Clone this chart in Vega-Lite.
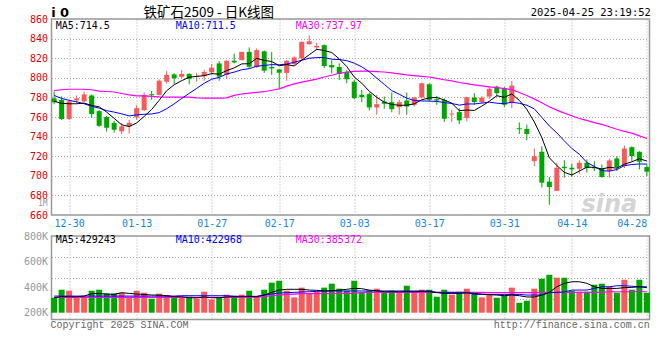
{
"$schema":"https://vega.github.io/schema/vega-lite/v6.json",
"background":"white",
"padding":{"left":22.5,"top":4,"right":4,"bottom":2},
"datasets":{"k":[
{"d":"2024-12-26","o":779,"h":786,"l":773,"c":775,"v":317000,"m5":776,"m10":782,"m30":787,"vm5":317000,"vm10":330000,"vm30":320000},
{"d":"2024-12-27","o":777.5,"h":781,"l":757,"c":758,"v":380000,"m5":774,"m10":779,"m30":787.8,"vm5":325000,"vm10":330000,"vm30":320000},
{"d":"2024-12-30","o":758,"h":778,"l":757,"c":776,"v":372000,"m5":773.5,"m10":777,"m30":788.3,"vm5":325000,"vm10":330000,"vm30":320000},
{"d":"2024-12-31","o":777,"h":782,"l":774,"c":779,"v":325000,"m5":773.5,"m10":775.5,"m30":788.3,"vm5":325000,"vm10":330000,"vm30":320000},
{"d":"2025-01-02","o":776,"h":786,"l":775,"c":783,"v":325000,"m5":774.2,"m10":773.5,"m30":788.3,"vm5":330000,"vm10":330000,"vm30":320000},
{"d":"2025-01-03","o":782,"h":783,"l":759,"c":763,"v":372000,"m5":771.8,"m10":771,"m30":787.8,"vm5":349000,"vm10":330000,"vm30":320000},
{"d":"2025-01-06","o":766,"h":767,"l":750,"c":751,"v":380000,"m5":770.4,"m10":769,"m30":786.5,"vm5":349000,"vm10":330000,"vm30":320000},
{"d":"2025-01-07","o":760,"h":761,"l":745,"c":749,"v":351000,"m5":765,"m10":766.5,"m30":786,"vm5":346000,"vm10":330000,"vm30":320000},
{"d":"2025-01-08","o":754,"h":756,"l":744,"c":747,"v":351000,"m5":758.6,"m10":765,"m30":785.5,"vm5":343000,"vm10":330000,"vm30":320000},
{"d":"2025-01-09","o":745.4,"h":754,"l":742.7,"c":750.5,"v":356000,"m5":752.1,"m10":763.2,"m30":784,"vm5":357000,"vm10":330000,"vm30":320000},
{"d":"2025-01-10","o":750.4,"h":757,"l":743,"c":754,"v":325000,"m5":750.3,"m10":761.1,"m30":782.5,"vm5":351000,"vm10":330000,"vm30":320000},
{"d":"2025-01-13","o":759.6,"h":772,"l":757,"c":769,"v":372000,"m5":753.9,"m10":762.2,"m30":781.6,"vm5":346000,"vm10":330000,"vm30":320000},
{"d":"2025-01-14","o":767,"h":785,"l":766,"c":782.6,"v":356000,"m5":760.6,"m10":762.8,"m30":781.6,"vm5":343000,"vm10":330000,"vm30":320000},
{"d":"2025-01-15","o":783.3,"h":786.6,"l":777.5,"c":782.2,"v":310000,"m5":767.7,"m10":763.1,"m30":781,"vm5":338000,"vm10":330000,"vm30":320000},
{"d":"2025-01-16","o":782.6,"h":798.5,"l":782,"c":797,"v":349000,"m5":777,"m10":764.5,"m30":780.5,"vm5":338000,"vm10":330000,"vm30":320000},
{"d":"2025-01-17","o":796,"h":807,"l":794,"c":803,"v":338000,"m5":786.8,"m10":768.5,"m30":780.2,"vm5":333000,"vm10":330000,"vm30":320000},
{"d":"2025-01-20","o":803.5,"h":804.5,"l":793.7,"c":799.5,"v":325000,"m5":792.9,"m10":773.4,"m30":780.2,"vm5":325000,"vm10":330000,"vm30":320000},
{"d":"2025-01-21","o":801,"h":808,"l":799.5,"c":804,"v":320000,"m5":797.1,"m10":778.9,"m30":780.2,"vm5":325000,"vm10":333000,"vm30":320000},
{"d":"2025-01-22","o":804,"h":804.5,"l":793.4,"c":799,"v":325000,"m5":800.5,"m10":784.1,"m30":780.2,"vm5":317000,"vm10":333000,"vm30":320000},
{"d":"2025-01-23","o":801,"h":805,"l":796,"c":802,"v":312000,"m5":801.5,"m10":789.2,"m30":779.5,"vm5":317000,"vm10":333000,"vm30":320000},
{"d":"2025-01-24","o":802,"h":808,"l":797,"c":806,"v":364000,"m5":802.1,"m10":794.4,"m30":779.2,"vm5":323000,"vm10":333000,"vm30":320000},
{"d":"2025-01-27","o":805.6,"h":814,"l":803,"c":810.3,"v":304000,"m5":804.3,"m10":798.6,"m30":779.2,"vm5":317000,"vm10":333000,"vm30":320000},
{"d":"2025-02-05","o":814.7,"h":817,"l":797,"c":801.2,"v":317000,"m5":803.7,"m10":800.4,"m30":779.2,"vm5":317000,"vm10":333000,"vm30":320000},
{"d":"2025-02-06","o":803,"h":818,"l":799,"c":817.4,"v":341000,"m5":807.4,"m10":803.9,"m30":779.6,"vm5":323000,"vm10":333000,"vm30":320000},
{"d":"2025-02-07","o":817.4,"h":824.8,"l":814.7,"c":815.7,"v":333000,"m5":810.1,"m10":805.8,"m30":782,"vm5":325000,"vm10":328000,"vm30":320000},
{"d":"2025-02-10","o":818,"h":826.5,"l":818,"c":826.5,"v":341000,"m5":814.2,"m10":808.2,"m30":783.5,"vm5":325000,"vm10":328000,"vm30":320000},
{"d":"2025-02-11","o":826.5,"h":831,"l":809.6,"c":811.3,"v":372000,"m5":814.4,"m10":809.3,"m30":784.3,"vm5":328000,"vm10":328000,"vm30":320000},
{"d":"2025-02-12","o":811,"h":830,"l":810,"c":828.2,"v":325000,"m5":819.8,"m10":811.8,"m30":785.2,"vm5":325000,"vm10":328000,"vm30":322000},
{"d":"2025-02-13","o":827,"h":828,"l":805,"c":807.3,"v":380000,"m5":817.8,"m10":812.6,"m30":785.8,"vm5":338000,"vm10":338000,"vm30":326000},
{"d":"2025-02-14","o":811,"h":826.5,"l":803,"c":809.6,"v":435000,"m5":816.6,"m10":813.4,"m30":787.3,"vm5":359000,"vm10":346000,"vm30":333000},
{"d":"2025-02-17","o":808.6,"h":809,"l":788.7,"c":805.2,"v":450000,"m5":812.3,"m10":813.3,"m30":788.7,"vm5":377000,"vm10":354000,"vm30":338000},
{"d":"2025-02-18","o":805,"h":818,"l":797,"c":817.4,"v":372000,"m5":813.5,"m10":814,"m30":791.5,"vm5":383000,"vm10":357000,"vm30":343000},
{"d":"2025-02-19","o":814,"h":822,"l":813,"c":820.8,"v":320000,"m5":812.1,"m10":815.9,"m30":793.8,"vm5":383000,"vm10":359000,"vm30":346000},
{"d":"2025-02-20","o":819.8,"h":837,"l":818,"c":836.7,"v":396000,"m5":817.9,"m10":817.9,"m30":795.6,"vm5":383000,"vm10":362000,"vm30":349000},
{"d":"2025-02-21","o":834.3,"h":843.4,"l":834,"c":837.3,"v":349000,"m5":823.5,"m10":820,"m30":797.2,"vm5":377000,"vm10":364000,"vm30":349000},
{"d":"2025-02-24","o":831,"h":836,"l":828.2,"c":832.6,"v":364000,"m5":829,"m10":820.6,"m30":798.6,"vm5":375000,"vm10":367000,"vm30":349000},
{"d":"2025-02-25","o":833.3,"h":834,"l":810,"c":812,"v":396000,"m5":827.9,"m10":820.7,"m30":800.8,"vm5":370000,"vm10":369000,"vm30":349000},
{"d":"2025-02-26","o":813,"h":818,"l":804.5,"c":810.6,"v":427000,"m5":825.8,"m10":819,"m30":802.6,"vm5":372000,"vm10":370000,"vm30":349000},
{"d":"2025-02-27","o":811,"h":814.7,"l":797.8,"c":803.9,"v":388000,"m5":819.3,"m10":818.6,"m30":804.6,"vm5":377000,"vm10":370000,"vm30":351000},
{"d":"2025-02-28","o":806,"h":808,"l":794.4,"c":798.5,"v":372000,"m5":811.5,"m10":817.5,"m30":805.8,"vm5":383000,"vm10":370000,"vm30":351000},
{"d":"2025-03-03","o":796,"h":798,"l":778,"c":779.2,"v":450000,"m5":800.8,"m10":814.9,"m30":806.5,"vm5":390000,"vm10":370000,"vm30":351000},
{"d":"2025-03-04","o":782.6,"h":787.6,"l":775.1,"c":780.2,"v":356000,"m5":794.5,"m10":811.2,"m30":806.9,"vm5":388000,"vm10":370000,"vm30":359000},
{"d":"2025-03-05","o":783.3,"h":785,"l":766.7,"c":769.7,"v":372000,"m5":786.3,"m10":806.1,"m30":806.9,"vm5":377000,"vm10":370000,"vm30":359000},
{"d":"2025-03-06","o":769.7,"h":782.6,"l":762.3,"c":773.1,"v":388000,"m5":780.1,"m10":799.7,"m30":806.4,"vm5":372000,"vm10":370000,"vm30":359000},
{"d":"2025-03-07","o":775.8,"h":780.9,"l":768.4,"c":773.5,"v":356000,"m5":775.1,"m10":793.3,"m30":805.9,"vm5":364000,"vm10":370000,"vm30":359000},
{"d":"2025-03-10","o":775.1,"h":785,"l":764.7,"c":768,"v":372000,"m5":772.9,"m10":786.9,"m30":805.1,"vm5":364000,"vm10":370000,"vm30":359000},
{"d":"2025-03-11","o":770,"h":777.5,"l":762.3,"c":775.1,"v":364000,"m5":771.9,"m10":783.2,"m30":804,"vm5":364000,"vm10":370000,"vm30":359000},
{"d":"2025-03-12","o":776.8,"h":785,"l":762.3,"c":770.7,"v":411000,"m5":772.1,"m10":779.2,"m30":803,"vm5":364000,"vm10":370000,"vm30":359000},
{"d":"2025-03-13","o":772.4,"h":780.5,"l":770.7,"c":779.9,"v":364000,"m5":773.4,"m10":776.8,"m30":802.2,"vm5":364000,"vm10":370000,"vm30":359000},
{"d":"2025-03-14","o":779.9,"h":795,"l":779,"c":794.4,"v":380000,"m5":777.6,"m10":776.4,"m30":801.5,"vm5":367000,"vm10":370000,"vm30":359000},
{"d":"2025-03-17","o":793.4,"h":794.4,"l":776,"c":777.5,"v":380000,"m5":779.5,"m10":776.2,"m30":800.8,"vm5":364000,"vm10":370000,"vm30":359000},
{"d":"2025-03-18","o":778.2,"h":781.6,"l":772.4,"c":776.8,"v":325000,"m5":779.9,"m10":775.9,"m30":799.5,"vm5":357000,"vm10":359000,"vm30":359000},
{"d":"2025-03-19","o":777.5,"h":779,"l":755,"c":758.2,"v":380000,"m5":777.4,"m10":774.7,"m30":798,"vm5":351000,"vm10":359000,"vm30":359000},
{"d":"2025-03-20","o":762.6,"h":767.4,"l":754.9,"c":763.5,"v":341000,"m5":774.1,"m10":773.8,"m30":796.8,"vm5":351000,"vm10":359000,"vm30":359000},
{"d":"2025-03-21","o":765,"h":769,"l":752.9,"c":756.6,"v":364000,"m5":766.5,"m10":772.1,"m30":795.2,"vm5":351000,"vm10":359000,"vm30":359000},
{"d":"2025-03-24","o":759,"h":780.9,"l":755.6,"c":780.2,"v":388000,"m5":767.1,"m10":773.3,"m30":794,"vm5":354000,"vm10":359000,"vm30":359000},
{"d":"2025-03-25","o":779.9,"h":784.3,"l":772.5,"c":775.2,"v":349000,"m5":766.7,"m10":773.3,"m30":792.8,"vm5":351000,"vm10":343000,"vm30":359000},
{"d":"2025-03-26","o":775.2,"h":781,"l":774,"c":779.9,"v":320000,"m5":771.1,"m10":774.2,"m30":791.8,"vm5":346000,"vm10":343000,"vm30":359000},
{"d":"2025-03-27","o":780.9,"h":791,"l":778.5,"c":788.7,"v":341000,"m5":776.1,"m10":775.1,"m30":790.8,"vm5":341000,"vm10":343000,"vm30":357000},
{"d":"2025-03-28","o":791,"h":792,"l":780.9,"c":784.3,"v":317000,"m5":781.7,"m10":774.1,"m30":790,"vm5":338000,"vm10":343000,"vm30":357000},
{"d":"2025-03-31","o":789.4,"h":791,"l":770,"c":772.5,"v":333000,"m5":780.1,"m10":773.6,"m30":789,"vm5":333000,"vm10":343000,"vm30":357000},
{"d":"2025-04-01","o":774.1,"h":796.8,"l":769.1,"c":792,"v":396000,"m5":783.5,"m10":775.1,"m30":787.9,"vm5":338000,"vm10":343000,"vm30":357000},
{"d":"2025-04-02","o":748.5,"h":754.5,"l":742.7,"c":747.5,"v":278000,"m5":777,"m10":774,"m30":785,"vm5":333000,"vm10":343000,"vm30":357000},
{"d":"2025-04-03","o":747.8,"h":752.2,"l":736.3,"c":742.7,"v":294000,"m5":767.8,"m10":772,"m30":782,"vm5":323000,"vm10":338000,"vm30":357000},
{"d":"2025-04-07","o":715,"h":727.8,"l":709.9,"c":720,"v":388000,"m5":754.9,"m10":768.3,"m30":778.5,"vm5":323000,"vm10":338000,"vm30":357000},
{"d":"2025-04-08","o":724.5,"h":730.2,"l":688,"c":693,"v":466000,"m5":739,"m10":759.6,"m30":774.5,"vm5":338000,"vm10":338000,"vm30":359000},
{"d":"2025-04-09","o":694,"h":698.8,"l":670.4,"c":688.6,"v":497000,"m5":718.4,"m10":750.9,"m30":770.5,"vm5":359000,"vm10":357000,"vm30":359000},
{"d":"2025-04-10","o":684.6,"h":713.3,"l":684.6,"c":708.2,"v":474000,"m5":710.5,"m10":743.8,"m30":767,"vm5":403000,"vm10":359000,"vm30":359000},
{"d":"2025-04-11","o":709.2,"h":716,"l":698.1,"c":707.6,"v":474000,"m5":703.5,"m10":735.6,"m30":764,"vm5":430000,"vm10":362000,"vm30":359000},
{"d":"2025-04-14","o":708.2,"h":712.3,"l":698.8,"c":706.6,"v":372000,"m5":700.8,"m10":727.9,"m30":761.3,"vm5":442000,"vm10":377000,"vm30":359000},
{"d":"2025-04-15","o":707.2,"h":715.7,"l":702.2,"c":713.3,"v":364000,"m5":704.9,"m10":722,"m30":758.5,"vm5":442000,"vm10":377000,"vm30":359000},
{"d":"2025-04-16","o":713.3,"h":716.7,"l":703.2,"c":708.2,"v":364000,"m5":708.8,"m10":713.6,"m30":756.5,"vm5":430000,"vm10":377000,"vm30":359000},
{"d":"2025-04-17","o":708.9,"h":715,"l":704.9,"c":707.6,"v":419000,"m5":708.7,"m10":709.6,"m30":754.2,"vm5":403000,"vm10":390000,"vm30":359000},
{"d":"2025-04-18","o":707.6,"h":711.6,"l":698.1,"c":698.8,"v":427000,"m5":706.9,"m10":705.2,"m30":752.5,"vm5":390000,"vm10":403000,"vm30":359000},
{"d":"2025-04-21","o":704.9,"h":717.4,"l":698.1,"c":715.7,"v":403000,"m5":708.7,"m10":704.8,"m30":750,"vm5":390000,"vm10":403000,"vm30":364000},
{"d":"2025-04-22","o":717.7,"h":720.1,"l":704.9,"c":708.9,"v":356000,"m5":707.8,"m10":706.4,"m30":747.5,"vm5":390000,"vm10":411000,"vm30":364000},
{"d":"2025-04-23","o":710,"h":730.9,"l":708,"c":727.8,"v":458000,"m5":711.8,"m10":710.3,"m30":745.3,"vm5":396000,"vm10":411000,"vm30":364000},
{"d":"2025-04-24","o":729.2,"h":730.2,"l":715,"c":720.1,"v":380000,"m5":714.3,"m10":711.5,"m30":743.5,"vm5":398000,"vm10":407000,"vm30":364000},
{"d":"2025-04-25","o":724.5,"h":725.1,"l":706.6,"c":714.3,"v":458000,"m5":717.4,"m10":712.1,"m30":740.8,"vm5":403000,"vm10":403000,"vm30":364000},
{"d":"2025-04-28","o":708.9,"h":711.6,"l":699.8,"c":704.2,"v":356000,"m5":715.1,"m10":711.9,"m30":738,"vm5":396000,"vm10":403000,"vm30":364000}
]},
"bounds":"flush",
"spacing":21,
"vconcat":[
{"width":598,"height":196,
 "data":{"name":"k"},
 "encoding":{"x":{"field":"d","type":"ordinal","title":null,"scale":{"type":"point","padding":0.35},
   "axis":{"values":["2024-12-30","2025-01-13","2025-01-27","2025-02-17","2025-03-03","2025-03-17","2025-03-31","2025-04-14","2025-04-28"],"labelExpr":"substring(datum.label,5)","labelAngle":0,"labelColor":"#1888d8","labelPadding":3,"labelFlush":8,"grid":true}}},
 "layer":[
  {"mark":{"type":"rule","strokeWidth":1},
   "encoding":{"y":{"field":"l","type":"quantitative","title":null,"scale":{"domain":[660,860],"nice":false,"zero":false},
     "axis":{"values":[660,680,700,720,740,760,780,800,820,840,860],"tickCount":100,"labelColor":"#e00000","labelPadding":4,"grid":true,"labelOverlap":false}},
    "y2":{"field":"h"},
    "color":{"condition":{"test":"datum.c >= datum.o","value":"#f65a5a"},"value":"#00a600"}}},
  {"mark":{"type":"bar","width":5},
   "encoding":{"y":{"field":"o","type":"quantitative","title":null,"scale":{"domain":[660,860],"nice":false,"zero":false},"axis":{"values":[660,680,700,720,740,760,780,800,820,840,860],"tickCount":100,"labelOverlap":false}},
    "y2":{"field":"c"},
    "color":{"condition":{"test":"datum.c >= datum.o","value":"#f65a5a"},"value":"#00a600"}}},
  {"mark":{"type":"line","color":"#ff00ff","strokeWidth":1.2},
   "encoding":{"y":{"field":"m30","type":"quantitative","title":null,"scale":{"domain":[660,860],"nice":false,"zero":false},"axis":{"values":[660,680,700,720,740,760,780,800,820,840,860],"tickCount":100,"labelOverlap":false}}}},
  {"mark":{"type":"line","color":"#0000ff","strokeWidth":1},
   "encoding":{"y":{"field":"m10","type":"quantitative","title":null,"scale":{"domain":[660,860],"nice":false,"zero":false},"axis":{"values":[660,680,700,720,740,760,780,800,820,840,860],"tickCount":100,"labelOverlap":false}}}},
  {"mark":{"type":"line","color":"#000000","strokeWidth":1},
   "encoding":{"y":{"field":"m5","type":"quantitative","title":null,"scale":{"domain":[660,860],"nice":false,"zero":false},"axis":{"values":[660,680,700,720,740,760,780,800,820,840,860],"tickCount":100,"labelOverlap":false}}}},
  {"data":{"values":[{}]},
   "mark":{"type":"text","align":"left","baseline":"middle","dx":-3,"font":"DejaVu Sans","fontWeight":"bold","fontSize":13,"color":"#000000","text":"i 0"},
   "encoding":{"x":{"datum":"2024-12-26","type":"ordinal"},"y":{"datum":866.5,"type":"quantitative","scale":{"domain":[660,860],"nice":false,"zero":false}}}},
  {"data":{"values":[{}]},
   "mark":{"type":"text","align":"center","baseline":"middle","dx":-3,"font":"Noto Sans CJK SC","fontSize":13.5,"color":"#000000","text":"铁矿石2509 - 日K线图"},
   "encoding":{"x":{"datum":"2025-01-27","type":"ordinal"},"y":{"datum":866.5,"type":"quantitative","scale":{"domain":[660,860],"nice":false,"zero":false}}}},
  {"data":{"values":[{}]},
   "mark":{"type":"text","align":"right","baseline":"middle","dx":4,"font":"DejaVu Sans Mono","fontSize":10.5,"color":"#000000","text":"2025-04-25 23:19:52"},
   "encoding":{"x":{"datum":"2025-04-28","type":"ordinal"},"y":{"datum":866.5,"type":"quantitative","scale":{"domain":[660,860],"nice":false,"zero":false}}}},
  {"data":{"values":[{}]},
   "mark":{"type":"text","align":"left","baseline":"middle","dx":1.5,"font":"DejaVu Sans Mono","fontSize":10,"color":"#000000","text":"MA5:714.5"},
   "encoding":{"x":{"datum":"2024-12-26","type":"ordinal"},"y":{"datum":853.3,"type":"quantitative","scale":{"domain":[660,860],"nice":false,"zero":false}}}},
  {"data":{"values":[{}]},
   "mark":{"type":"text","align":"left","baseline":"middle","dx":1.5,"font":"DejaVu Sans Mono","fontSize":10,"color":"#0000ff","text":"MA10:711.5"},
   "encoding":{"x":{"datum":"2025-01-20","type":"ordinal"},"y":{"datum":853.3,"type":"quantitative","scale":{"domain":[660,860],"nice":false,"zero":false}}}},
  {"data":{"values":[{}]},
   "mark":{"type":"text","align":"left","baseline":"middle","dx":1.5,"font":"DejaVu Sans Mono","fontSize":10,"color":"#ff00ff","text":"MA30:737.97"},
   "encoding":{"x":{"datum":"2025-02-19","type":"ordinal"},"y":{"datum":853.3,"type":"quantitative","scale":{"domain":[660,860],"nice":false,"zero":false}}}},
  {"data":{"values":[{}]},
   "mark":{"type":"text","align":"right","baseline":"middle","dx":-6.5,"font":"DejaVu Sans Mono","fontSize":8,"color":"#999999","text":"1M"},
   "encoding":{"x":{"datum":"2024-12-26","type":"ordinal"},"y":{"datum":670.8,"type":"quantitative","scale":{"domain":[660,860],"nice":false,"zero":false}}}},
  {"data":{"values":[{}]},
   "mark":{"type":"text","align":"center","baseline":"middle","font":"DejaVu Sans","fontWeight":"bold","fontStyle":"italic","fontSize":24,"color":"#d4d4d4","text":"sina"},
   "encoding":{"x":{"datum":"2025-04-21","type":"ordinal"},"y":{"datum":670,"type":"quantitative","scale":{"domain":[660,860],"nice":false,"zero":false}}}}
 ]},
{"width":598,"height":83.4,
 "data":{"name":"k"},
 "encoding":{"x":{"field":"d","type":"ordinal","title":null,"scale":{"type":"point","padding":0.35},
   "axis":{"values":["2024-12-30","2025-01-13","2025-01-27","2025-02-17","2025-03-03","2025-03-17","2025-03-31","2025-04-14","2025-04-28"],"labels":false,"grid":true}}},
 "layer":[
  {"mark":{"type":"bar","width":6},
   "encoding":{"y":{"field":"v","type":"quantitative","title":null,"scale":{"domain":[147600,800000],"nice":false,"zero":false},
     "axis":{"values":[200000,400000,600000,800000],"tickCount":100,"labelExpr":"(datum.value/1000) + 'K'","labelColor":"#999999","labelPadding":4,"grid":false,"labelOverlap":false}},
    "y2":{"datum":200000},
    "color":{"condition":{"test":"datum.c >= datum.o","value":"#f65a5a"},"value":"#00a600"}}},
  {"mark":{"type":"line","color":"#ff00ff","strokeWidth":1.2},
   "encoding":{"y":{"field":"vm30","type":"quantitative","title":null,"scale":{"domain":[147600,800000],"nice":false,"zero":false},
     "axis":{"orient":"right","values":[310700,473800,636900],"tickCount":100,"labels":false,"grid":true,"minExtent":0,"maxExtent":0}}}},
  {"mark":{"type":"line","color":"#0000ff","strokeWidth":1},
   "encoding":{"y":{"field":"vm10","type":"quantitative","title":null,"scale":{"domain":[147600,800000],"nice":false,"zero":false},"axis":null}}},
  {"mark":{"type":"line","color":"#000000","strokeWidth":1},
   "encoding":{"y":{"field":"vm5","type":"quantitative","title":null,"scale":{"domain":[147600,800000],"nice":false,"zero":false},"axis":null}}},
  {"data":{"values":[{}]},
   "mark":{"type":"text","align":"left","baseline":"middle","dx":1.5,"font":"DejaVu Sans Mono","fontSize":10,"color":"#000000","text":"MA5:429243"},
   "encoding":{"x":{"datum":"2024-12-26","type":"ordinal"},"y":{"datum":767000,"type":"quantitative","scale":{"domain":[147600,800000],"nice":false,"zero":false},"axis":null}}},
  {"data":{"values":[{}]},
   "mark":{"type":"text","align":"left","baseline":"middle","dx":1.5,"font":"DejaVu Sans Mono","fontSize":10,"color":"#0000ff","text":"MA10:422968"},
   "encoding":{"x":{"datum":"2025-01-20","type":"ordinal"},"y":{"datum":767000,"type":"quantitative","scale":{"domain":[147600,800000],"nice":false,"zero":false},"axis":null}}},
  {"data":{"values":[{}]},
   "mark":{"type":"text","align":"left","baseline":"middle","dx":1.5,"font":"DejaVu Sans Mono","fontSize":10,"color":"#ff00ff","text":"MA30:385372"},
   "encoding":{"x":{"datum":"2025-02-19","type":"ordinal"},"y":{"datum":767000,"type":"quantitative","scale":{"domain":[147600,800000],"nice":false,"zero":false},"axis":null}}},
  {"data":{"values":[{}]},
   "mark":{"type":"text","align":"left","baseline":"middle","dx":-3.6,"font":"Liberation Mono","fontSize":10,"color":"#666666","text":"Copyright 2025 SINA.COM"},
   "encoding":{"x":{"datum":"2024-12-26","type":"ordinal"},"y":{"datum":106000,"type":"quantitative","scale":{"domain":[147600,800000],"nice":false,"zero":false},"axis":null}}},
  {"data":{"values":[{}]},
   "mark":{"type":"text","align":"right","baseline":"middle","dx":3,"font":"Liberation Mono","fontSize":10,"color":"#666666","text":"http://finance.sina.com.cn"},
   "encoding":{"x":{"datum":"2025-04-28","type":"ordinal"},"y":{"datum":106000,"type":"quantitative","scale":{"domain":[147600,800000],"nice":false,"zero":false},"axis":null}}}
 ],
 "resolve":{"axis":{"y":"independent"}}}
],
"config":{
 "view":{"stroke":"#999999","strokeWidth":1.5},
 "axis":{"domain":false,"ticks":false,"labelFont":"DejaVu Sans Mono","labelFontSize":10,"gridColor":"#aaaaaa","gridDash":[1,2],"gridOpacity":1,"labelOverlap":false}
}
}
